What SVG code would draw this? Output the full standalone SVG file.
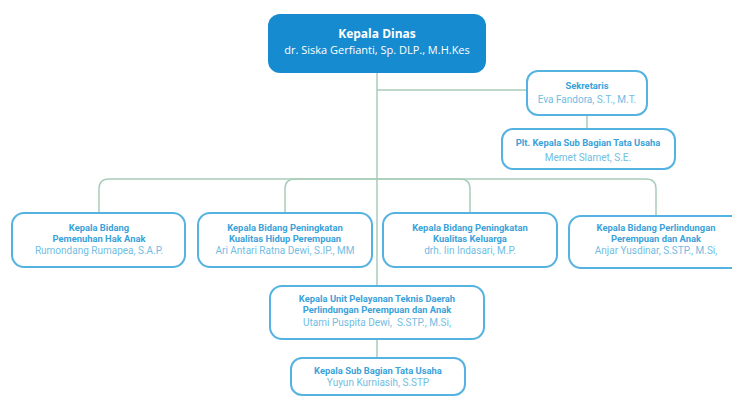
<svg xmlns="http://www.w3.org/2000/svg" width="732" height="396" viewBox="0 0 732 396">
<style>
.box{fill:#ffffff;stroke:#55b3e2;stroke-width:2}
.t{font-family:Roboto,"Open Sans","Liberation Sans",sans-serif;font-weight:700;font-size:9.4px;fill:#3aa2d9;text-anchor:middle}
.n{font-family:Roboto,"Open Sans","Liberation Sans",sans-serif;font-size:10px;fill:#72bde2;text-anchor:middle}
.c{fill:none;stroke:#a9cdb8;stroke-width:1.5}
</style>
<rect width="732" height="396" fill="#ffffff"/>
<g id="connectors">
<path class="c" d="M377,73 V286"/>
<path class="c" d="M377,90 H526"/>
<path class="c" d="M587,115 V129"/>
<path class="c" d="M377,179 H109 Q99,179 99,189 V213"/>
<path class="c" d="M377,179 H295 Q285,179 285,189 V213"/>
<path class="c" d="M377,179 H460 Q470,179 470,189 V213"/>
<path class="c" d="M377,179 H646 Q656,179 656,189 V216"/>
<path class="c" d="M377,339 V358"/>
</g>
<g id="kepala-dinas">
<rect x="268" y="14" width="218" height="59" rx="12" fill="#178bd0"/>
<text x="377" y="38" font-family="Open Sans, Liberation Sans, sans-serif" font-weight="700" font-size="12" fill="#ffffff" text-anchor="middle">Kepala Dinas</text>
<text x="377" y="54" font-family="Open Sans, Liberation Sans, sans-serif" font-size="11" fill="#ffffff" text-anchor="middle">dr. Siska Gerfianti, Sp. DLP., M.H.Kes</text>
</g>
<g id="sekretaris">
<rect class="box" x="527" y="71" width="120" height="44" rx="11"/>
<text class="t" x="587" y="89">Sekretaris</text>
<text class="n" x="587" y="103">Eva Fandora, S.T., M.T.</text>
</g>
<g id="plt-subbag">
<rect class="box" x="502" y="129" width="173" height="40" rx="11"/>
<text class="t" x="588" y="146">Plt. Kepala Sub Bagian Tata Usaha</text>
<text class="n" x="588" y="161">Memet Slamet, S.E.</text>
</g>
<g id="bidang-pha">
<rect class="box" x="12" y="213" width="173" height="54" rx="12"/>
<text class="t" x="99" y="231">Kepala Bidang</text>
<text class="t" x="99" y="242">Pemenuhan Hak Anak</text>
<text class="n" x="99" y="254">Rumondang Rumapea, S.A.P.</text>
</g>
<g id="bidang-pkhp">
<rect class="box" x="198" y="213" width="174" height="54" rx="12"/>
<text class="t" x="285" y="231">Kepala Bidang Peningkatan</text>
<text class="t" x="285" y="242">Kualitas Hidup Perempuan</text>
<text class="n" x="285" y="254">Ari Antari Ratna Dewi, S.IP., MM</text>
</g>
<g id="bidang-pkk">
<rect class="box" x="383" y="213" width="174" height="54" rx="12"/>
<text class="t" x="470" y="231">Kepala Bidang Peningkatan</text>
<text class="t" x="470" y="242">Kualitas Keluarga</text>
<text class="n" x="470" y="254">drh. Iin Indasari, M.P.</text>
</g>
<g id="bidang-ppa">
<rect class="box" x="569" y="216" width="174" height="52" rx="12"/>
<text class="t" x="656" y="231">Kepala Bidang Perlindungan</text>
<text class="t" x="656" y="242">Perempuan dan Anak</text>
<text class="n" x="656" y="254">Anjar Yusdinar, S.STP., M.Si,</text>
</g>
<g id="uptd-ppa">
<rect class="box" x="270" y="286" width="214" height="53" rx="12"/>
<text class="t" x="377" y="302">Kepala Unit Pelayanan Teknis Daerah</text>
<text class="t" x="377" y="313">Perlindungan Perempuan dan Anak</text>
<text class="n" x="377" y="326">Utami Puspita Dewi,&#160; S.STP., M.Si,</text>
</g>
<g id="subbag-tu">
<rect class="box" x="291" y="358" width="174" height="37" rx="11"/>
<text class="t" x="378" y="374">Kepala Sub Bagian Tata Usaha</text>
<text class="n" x="378" y="386">Yuyun Kurniasih, S.STP</text>
</g>
</svg>
